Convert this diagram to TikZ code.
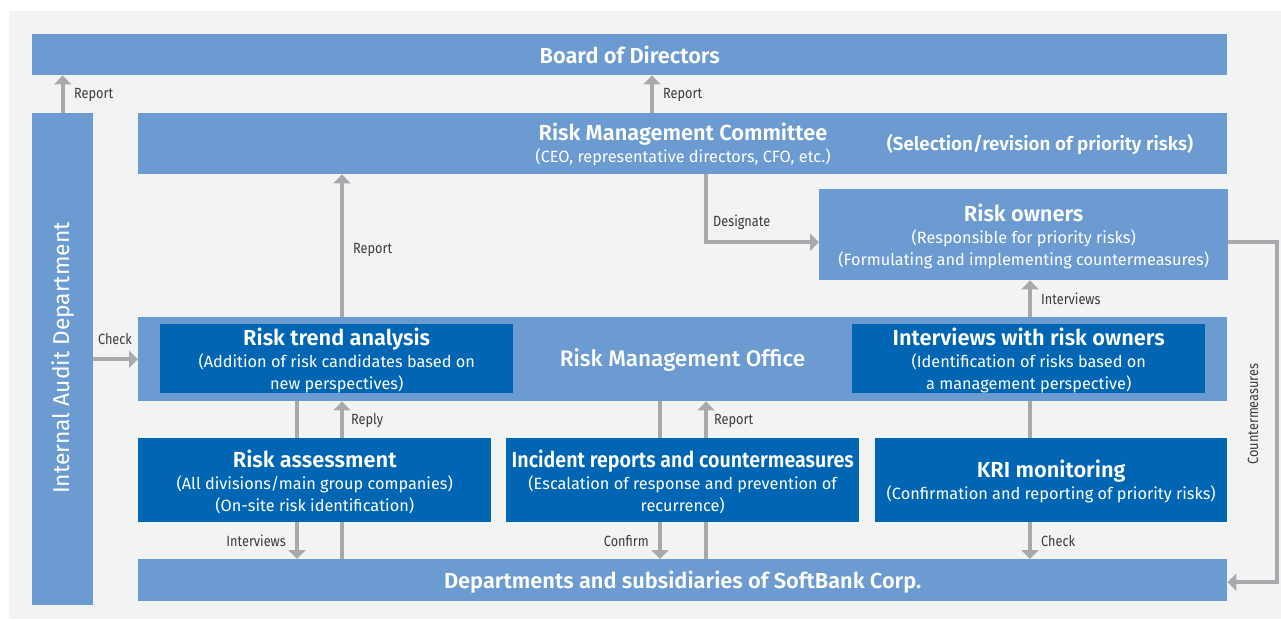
\documentclass[tikz,border=0pt]{standalone}
\usepackage{fontspec}
\setmainfont{Fira Sans}[BoldFont={Fira Sans SemiBold}]
\newfontfamily\medf{Fira Sans Medium}
\newfontfamily\condf{Fira Sans}[FakeStretch=0.86]
\newfontfamily\condb{Fira Sans SemiBold}[FakeStretch=0.9]
\usetikzlibrary{arrows.meta,calc}
\definecolor{lblue}{HTML}{6B9BD1}
\definecolor{dblue}{HTML}{0066B3}
\definecolor{panel}{HTML}{F2F4F4}
\definecolor{agray}{HTML}{A7A9AC}
\definecolor{ltext}{HTML}{3E3A39}
\newcommand\ttlb[1]{{\fontsize{21.8}{22}\selectfont\bfseries #1}}
\newcommand\ttl[1]{{\fontsize{21.8}{22}\selectfont\bfseries\rule{0pt}{21pt}#1}}
\begin{document}
\begin{tikzpicture}[x=1pt,y=-1pt,
  lbox/.style={fill=lblue,draw=none,inner sep=0pt,anchor=north west,text=white,align=center,font=\fontsize{16.3}{22}\selectfont},
  dbox/.style={fill=dblue,draw=none,inner sep=0pt,anchor=north west,text=white,align=center,font=\fontsize{16.3}{22}\selectfont},
  arr/.style={draw=agray,line width=4pt,-{Triangle[width=17pt,length=9pt]}},
  ln/.style={draw=agray,line width=4pt},
  lbl/.style={text=ltext,font=\condf\fontsize{14.8}{16}\selectfont,inner sep=0pt}]
\useasboundingbox (0,0) rectangle (1281,619);
\fill[white] (0,0) rectangle (1281,619);
\fill[panel] (9,11) rectangle (1281,619);
% boxes
\node[lbox,minimum width=1195pt,minimum height=41pt] (board) at (32,34) {\ttlb{Board of Directors}};
\node[lbox,minimum width=61pt,minimum height=492pt] (ia) at (32,113) {};
\node[text=white,rotate=90,font=\fontsize{22.8}{22}\selectfont,inner sep=0pt] (iat) at (63,358) {Internal Audit Department};
\node[lbox,minimum width=1089pt,minimum height=61pt] (rmc) at (138,113) {};
\node[text=white,align=center,font=\fontsize{16.3}{22}\selectfont,inner sep=0pt] (rmct) at (683,144.5) {\ttlb{Risk Management Committee}\\(CEO, representative directors, CFO, etc.)};
\node[text=white,font=\bfseries\fontsize{18.8}{20}\selectfont,inner sep=0pt] (rmcs) at (1040,144.5) {(Selection/revision of priority risks)};
\node[lbox,minimum width=409pt,minimum height=91pt] (ro) at (819,189) {\ttl{Risk owners}\\(Responsible for priority risks)\\(Formulating and implementing countermeasures)};
\node[lbox,minimum width=1089pt,minimum height=84pt] (rmo) at (138,317) {};
\node[text=white,font=\medf\fontsize{22.5}{22}\selectfont,inner sep=0pt] (rmot) at (682.5,360) {Risk Management Office};
\node[dbox,minimum width=353pt,minimum height=69pt] (rta) at (160,324) {\ttl{Risk trend analysis}\\(Addition of risk candidates based on\\new perspectives)};
\node[dbox,minimum width=353pt,minimum height=69pt] (iwro) at (852,324) {\ttl{Interviews with risk owners}\\(Identification of risks based on\\a management perspective)};
\node[dbox,minimum width=353pt,minimum height=84pt] (ra) at (138,438) {\ttl{Risk assessment}\\(All divisions/main group companies)\\(On-site risk identification)};
\node[dbox,minimum width=353pt,minimum height=84pt] (inc) at (506,438) {{\condb\fontsize{21.8}{22}\selectfont\rule{0pt}{21pt}Incident reports and countermeasures}\\(Escalation of response and prevention of\\recurrence)};
\node[dbox,minimum width=352pt,minimum height=84pt] (kri) at (875,438) {\ttl{KRI monitoring}\\(Confirmation and reporting of priority risks)};
\node[lbox,minimum width=1089pt,minimum height=42pt] (dep) at (138,559) {\ttl{Departments and subsidiaries of SoftBank Corp.}};
% columns
\coordinate (c297) at (297,0);
\coordinate (c342) at (342,0);
\coordinate (c652) at (652,0);
\coordinate (c660) at (660,0);
\coordinate (c706) at (706,0);
\coordinate (c1030) at (1030,0);
% connectors
\draw[arr] (ia.north) -- (ia.north |- board.south);
\draw[arr] (rmc.north -| c652) -- (board.south -| c652);
\draw[arr] (rmo.north -| c342) -- (rmc.south -| c342);
\draw[arr] (rmc.south -| c706) |- ([yshift=-7.5pt]ro.west);
\draw[arr] ([yshift=-7.5pt]ro.east) -- ++(49,0) |- ([yshift=-2pt]dep.east);
\draw[arr] (rmo.north -| c1030) -- (ro.south -| c1030);
\draw[arr] (rmo.west -| ia.east) -- (rmo.west);
\draw[ln] (rmo.south -| c297) -- (ra.north -| c297);
\draw[arr] (ra.north -| c342) -- (rmo.south -| c342);
\draw[arr] (ra.south -| c297) -- (dep.north -| c297);
\draw[ln] (dep.north -| c342) -- (ra.south -| c342);
\draw[ln] (rmo.south -| c660) -- (inc.north -| c660);
\draw[arr] (inc.north -| c706) -- (rmo.south -| c706);
\draw[arr] (inc.south -| c660) -- (dep.north -| c660);
\draw[ln] (dep.north -| c706) -- (inc.south -| c706);
\draw[ln] (rmo.south -| c1030) -- (kri.north -| c1030);
\draw[arr] (kri.south -| c1030) -- (dep.north -| c1030);
% labels
\node[lbl,anchor=west] (l1) at (74,95) {Report};
\node[lbl,anchor=west] (l2) at (663,95) {Report};
\node[lbl,anchor=west] (l3) at (353,250) {Report};
\node[lbl,anchor=west] (l4) at (713,222) {Designate};
\node[lbl,anchor=west] (l5) at (1041,299) {Interviews};
\node[lbl] (l6) at (115,339) {Check};
\node[lbl,anchor=west] (l7) at (351,421) {Reply};
\node[lbl,anchor=west] (l8) at (714,421) {Report};
\node[lbl,anchor=east] (l9) at (286,541) {Interviews};
\node[lbl,anchor=east] (l10) at (649,541) {Confirm};
\node[lbl,anchor=west] (l11) at (1041,541) {Check};
\node[lbl,rotate=90] (l12) at (1253,414) {Countermeasures};
\end{tikzpicture}
\end{document}
